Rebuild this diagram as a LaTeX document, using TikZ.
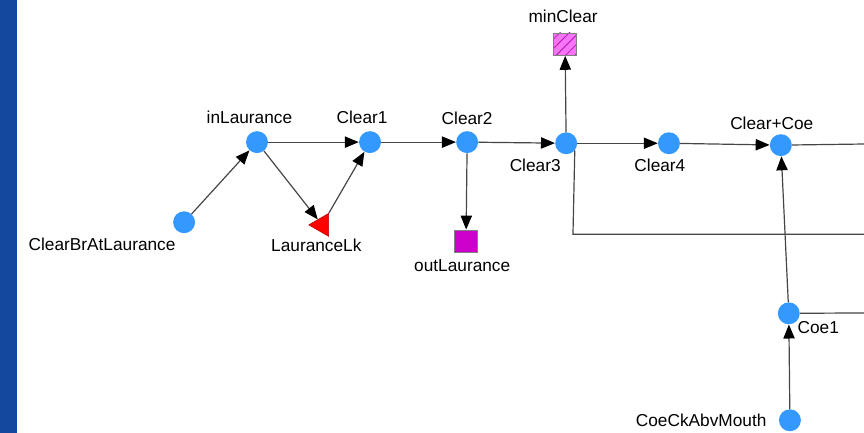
\documentclass[tikz,border=0pt]{standalone}
\usepackage{fontspec}
\setmainfont{Liberation Sans}
\usetikzlibrary{arrows.meta, patterns.meta, shapes.geometric}
\definecolor{sidebar}{rgb}{0.08, 0.28, 0.62}
\definecolor{nodeblue}{rgb}{0.2, 0.6, 1}
\definecolor{wiregray}{rgb}{0.27, 0.27, 0.27}
\definecolor{outmag}{rgb}{0.8, 0, 0.8}
\definecolor{minpink}{rgb}{0.97, 0.45, 0.97}
\definecolor{minline}{rgb}{0.7, 0.1, 0.7}
\tikzstyle{dot} = [circle,fill=nodeblue,inner sep=0,minimum size=0.58cm]
\tikzstyle{lk} = [regular polygon,regular polygon sides=3,shape border rotate=90,fill=red,draw=red!70!black,line width=.4pt,inner sep=0,minimum size=0.7cm]
\tikzstyle{outbox} = [rectangle,fill=outmag,draw=gray,line width=.4pt,inner sep=0,minimum size=0.6cm]
\tikzstyle{minbox} = [rectangle,preaction={fill=minpink},pattern={Lines[angle=45,distance=5pt,line width=.6pt]},pattern color=minline,draw=gray,line width=.4pt,inner sep=0,minimum size=0.6cm]
\tikzstyle{link} = [draw=wiregray,line width=.9pt,-{Triangle[length=10.5pt,width=8.5pt,fill=black,color=black]}]
\tikzstyle{wire} = [draw=wiregray,line width=.9pt]

\begin{document}
\begin{tikzpicture}[node distance=1cm, font=\fontsize{13}{15}\selectfont]
		\useasboundingbox (0,0) rectangle (22.86,-11.456);
		\fill[sidebar] (0,0) rectangle (0.45,-11.456);

		\node [dot,label={[xshift=-.2cm,label distance=2pt]above:inLaurance}] (inl) at (6.8,-3.76) {};
		\node [dot,right of=inl,xshift=1.99cm,label={[xshift=-.21cm,label distance=2pt]above:Clear1}] (c1) {};
		\node [dot,below of=inl,xshift=-1.93cm,yshift=-1.12cm,label={[xshift=-2.17cm]below:ClearBrAtLaurance}] (cbr) {};
		\node [lk,below of=inl,xshift=1.72cm,yshift=-1.19cm,label={[xshift=-.15cm,label distance=1pt]below:LauranceLk}] (lk) {};
		\node [dot,right of=c1,xshift=1.57cm,label={[label distance=1pt]above:Clear2}] (c2) {};
		\node [outbox,below of=c2,xshift=-.03cm,yshift=-1.62cm,label={[xshift=-.1cm,label distance=1.5pt]below:outLaurance}] (outl) {};
		\node [dot,right of=c2,xshift=1.62cm,yshift=-.03cm,label={[xshift=-.82cm]below:Clear3}] (c3) {};
		\node [minbox,above of=c3,xshift=-.03cm,yshift=1.62cm,label={[xshift=-.05cm,label distance=4pt]above:minClear}] (minc) {};
		\node [dot,right of=c3,xshift=1.72cm,label={[xshift=-.24cm]below:Clear4}] (c4) {};
		\node [dot,right of=c4,xshift=1.96cm,yshift=-.05cm,label={[xshift=-.24cm]above:Clear+Coe}] (cc) {};
		\node [dot,below of=cc,xshift=.21cm,yshift=-3.45cm,label={[xshift=-.1cm,yshift=.12cm]below right:Coe1}] (coe1) {};
		\node [dot,below of=coe1,xshift=.03cm,yshift=-1.83cm,label={[xshift=-.2cm]left:CoeCkAbvMouth}] (ck) {};

		\coordinate (e1) at (22.86,-3.81);
		\coordinate (bend) at (15.16,-6.2);
		\coordinate (e2) at (22.86,-6.2);
		\coordinate (e3) at (22.86,-8.28);

		\draw[link](cbr)--(inl);
		\draw[link](inl)--(c1);
		\draw[link](inl)--(lk);
		\draw[link](lk)--(c1);
		\draw[link](c1)--(c2);
		\draw[link](c2)--(outl);
		\draw[link](c2)--(c3);
		\draw[link](c3)--(minc);
		\draw[link](c3)--(c4);
		\draw[link](c4)--(cc);
		\draw[link](coe1)--(cc);
		\draw[link](ck)--(coe1);
		\draw[wire](cc)--(e1);
		\draw[wire](c3.-40)--(bend)--(e2);
		\draw[wire](coe1)--(e3);
\end{tikzpicture}
\end{document}
